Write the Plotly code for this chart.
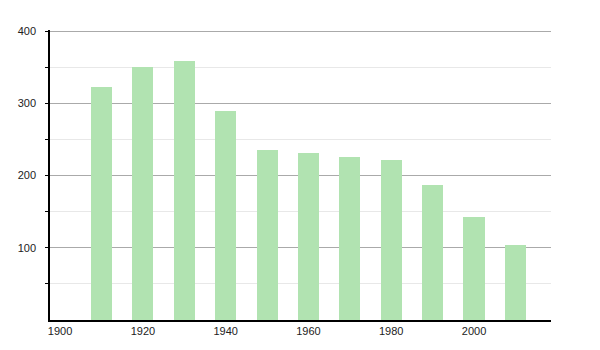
import plotly.graph_objects as go

years = [1910, 1920, 1930, 1940, 1950, 1960, 1970, 1980, 1990, 2000, 2010]
population = [322, 350, 358, 289, 236, 231, 225, 222, 187, 143, 104]
x_ticks = [1900, 1920, 1940, 1960, 1980, 2000]
y_ticks = [100, 200, 300, 400]
y_minor = [50, 150, 250, 350]

fig = go.Figure(go.Bar(
    x=years, y=population, width=5.1,
    marker=dict(color="#b1e3b1", line=dict(width=0)),
    hoverinfo="x+y",
))

fig.update_layout(
    width=600, height=350,
    margin=dict(l=50, r=49, t=30, b=30),
    paper_bgcolor="white", plot_bgcolor="white",
    font=dict(family="Liberation Sans, Arial, sans-serif", size=11, color="#222"),
    showlegend=False,
    bargap=0,
)
fig.update_xaxes(
    range=[1897.56, 2018.6],
    tickmode="array", tickvals=x_ticks,
    showgrid=False, zeroline=False,
    showline=True, linecolor="black", linewidth=1.5,
    ticks="", ticklabelstandoff=0,
)
fig.update_yaxes(
    range=[0, 401.4],
    tickmode="array", tickvals=y_ticks,
    showgrid=True, gridcolor="#aaaaaa", gridwidth=1,
    zeroline=False,
    showline=True, linecolor="black", linewidth=1.5,
    ticks="outside", ticklen=3, tickcolor="black",
    ticklabelstandoff=7,
    minor=dict(tickmode="array", tickvals=y_minor, showgrid=True,
               gridcolor="#e8e8e8", gridwidth=1,
               ticks="outside", ticklen=3, tickcolor="black"),
)

fig.write_html("out.html")
